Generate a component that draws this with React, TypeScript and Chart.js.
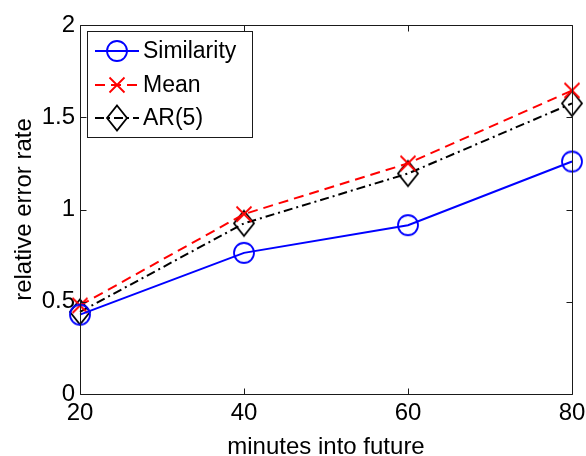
import React, { useEffect, useRef } from "react";
import { Chart, registerables } from "chart.js";

Chart.register(...registerables);

const minutes = [20, 40, 60, 80];
const similarity = [0.43, 0.765, 0.915, 1.26];
const meanErr = [0.48, 0.975, 1.25, 1.645];
const ar5 = [0.445, 0.925, 1.195, 1.575];
const xTickValues = [20, 40, 60, 80];
const yTickValues = [0, 0.5, 1, 1.5, 2];
const yTickLabels = ["0", "0.5", "1", "1.5", "2"];
const seriesNames = ["Similarity", "Mean", "AR(5)"];
const xTitle = "minutes into future";
const yTitle = "relative error rate";

const FONT = '"Liberation Sans", Arial, Helvetica, sans-serif';

function makeMarker(kind: string, color: string): HTMLCanvasElement {
  const c = document.createElement("canvas");
  const w = 28;
  const h = 30;
  c.width = w;
  c.height = h;
  const g = c.getContext("2d")!;
  g.strokeStyle = color;
  g.lineWidth = 1.8;
  const cx = w / 2;
  const cy = h / 2;
  g.beginPath();
  if (kind === "circle") {
    g.arc(cx, cy, 10, 0, Math.PI * 2);
  } else if (kind === "x") {
    g.moveTo(cx - 7.5, cy - 7.5);
    g.lineTo(cx + 7.5, cy + 7.5);
    g.moveTo(cx + 7.5, cy - 7.5);
    g.lineTo(cx - 7.5, cy + 7.5);
  } else {
    g.moveTo(cx, cy - 12.5);
    g.lineTo(cx + 10, cy);
    g.lineTo(cx, cy + 12.5);
    g.lineTo(cx - 10, cy);
    g.closePath();
  }
  g.stroke();
  return c;
}

export default function App() {
  const ref = useRef<HTMLCanvasElement | null>(null);

  useEffect(() => {
    document.body.style.margin = "0";
    const canvas = ref.current;
    if (!canvas) return;

    const styles = [
      { color: "#0000ff", dash: [] as number[], marker: makeMarker("circle", "#0000ff") },
      { color: "#ff0000", dash: [10, 6], marker: makeMarker("x", "#ff0000") },
      { color: "#000000", dash: [9, 4, 2, 4], marker: makeMarker("diamond", "#000000") },
    ];
    const values = [similarity, meanErr, ar5];

    const framePlugin = {
      id: "frame",
      afterDraw(chart: any) {
        const ctx = chart.ctx;
        const a = chart.chartArea;
        const xs = chart.scales.x;
        const ys = chart.scales.y;
        const L = Math.round(a.left) + 0.5;
        const R = Math.round(a.right) + 0.5;
        const T = Math.round(a.top) + 0.5;
        const B = Math.round(a.bottom) + 0.5;
        ctx.save();
        ctx.strokeStyle = "#1a1a1a";
        ctx.lineWidth = 1;
        ctx.beginPath();
        ctx.rect(L, T, R - L, B - T);
        const tl = 6;
        xTickValues.forEach((v) => {
          const px = Math.round(xs.getPixelForValue(v)) + 0.5;
          ctx.moveTo(px, B);
          ctx.lineTo(px, B - tl);
          ctx.moveTo(px, T);
          ctx.lineTo(px, T + tl);
        });
        yTickValues.forEach((v) => {
          const py = Math.round(ys.getPixelForValue(v)) + 0.5;
          ctx.moveTo(L, py);
          ctx.lineTo(L + tl, py);
          ctx.moveTo(R, py);
          ctx.lineTo(R - tl, py);
        });
        ctx.stroke();

        // legend
        const bx = 87.5, by = 31.5, bw = 165, bh = 106;
        ctx.fillStyle = "#ffffff";
        ctx.fillRect(bx, by, bw, bh);
        ctx.strokeStyle = "#1a1a1a";
        ctx.strokeRect(bx, by, bw, bh);
        const rowsY = [51, 85, 118];
        seriesNames.forEach((name, i) => {
          const s = styles[i];
          const y = rowsY[i];
          ctx.save();
          ctx.strokeStyle = s.color;
          ctx.lineWidth = 2;
          ctx.setLineDash(s.dash);
          ctx.beginPath();
          ctx.moveTo(95, y);
          ctx.lineTo(139, y);
          ctx.stroke();
          ctx.restore();
          ctx.drawImage(s.marker, 117 - s.marker.width / 2, y - s.marker.height / 2);
          ctx.fillStyle = "#000000";
          ctx.font = `23px ${FONT}`;
          ctx.textAlign = "left";
          ctx.textBaseline = "middle";
          ctx.fillText(name, 143, y + 1);
        });
        ctx.restore();
      },
    };

    const chart = new Chart(canvas, {
      type: "line",
      data: {
        datasets: seriesNames.map((name, i) => ({
          label: name,
          data: minutes.map((m, j) => ({ x: m, y: values[i][j] })),
          borderColor: styles[i].color,
          borderWidth: 2,
          borderDash: styles[i].dash,
          pointStyle: styles[i].marker as any,
          pointRadius: 10,
          pointBorderColor: styles[i].color,
          pointBackgroundColor: "transparent",
          fill: false,
          tension: 0,
          clip: false as any,
        })),
      },
      options: {
        responsive: false,
        animation: false,
        devicePixelRatio: 1,
        layout: { padding: { top: 25, right: 14, left: 0, bottom: 0 } },
        plugins: {
          legend: { display: false },
          tooltip: { enabled: false },
        },
        scales: {
          x: {
            type: "linear",
            min: 20,
            max: 80,
            afterBuildTicks: (s: any) => {
              s.ticks = xTickValues.map((v) => ({ value: v }));
            },
            afterFit: (s: any) => {
              s.height = 62;
              s.paddingLeft = 0;
              s.paddingRight = 0;
            },
            grid: { display: false, drawTicks: false },
            border: { display: false },
            ticks: {
              padding: 5,
              color: "#000",
              font: { family: FONT, size: 24 },
              maxRotation: 0,
              autoSkip: false,
              callback: (v: any) => String(v),
            },
            title: {
              display: true,
              text: xTitle,
              color: "#000",
              font: { family: FONT, size: 24, lineHeight: 0.75 },
              padding: { top: 0, bottom: 0 },
            },
          },
          y: {
            type: "linear",
            min: 0,
            max: 2,
            afterBuildTicks: (s: any) => {
              s.ticks = yTickValues.map((v) => ({ value: v }));
            },
            afterFit: (s: any) => {
              s.width = 80;
              s.paddingTop = 0;
              s.paddingBottom = 0;
            },
            grid: { display: false, drawTicks: false },
            border: { display: false },
            ticks: {
              padding: 5,
              color: "#000",
              font: { family: FONT, size: 24 },
              autoSkip: false,
              callback: (v: any) => {
                const k = yTickValues.indexOf(Number(v));
                return k >= 0 ? yTickLabels[k] : String(v);
              },
            },
            title: {
              display: true,
              text: yTitle,
              color: "#000",
              font: { family: FONT, size: 24, lineHeight: 1 },
              padding: { top: 12, bottom: 0 },
            },
          },
        },
      },
      plugins: [framePlugin],
    });

    return () => chart.destroy();
  }, []);

  return (
    <div style={{ width: 586, height: 456 }}>
      <canvas ref={ref} width={586} height={456} style={{ display: "block" }} />
    </div>
  );
}
